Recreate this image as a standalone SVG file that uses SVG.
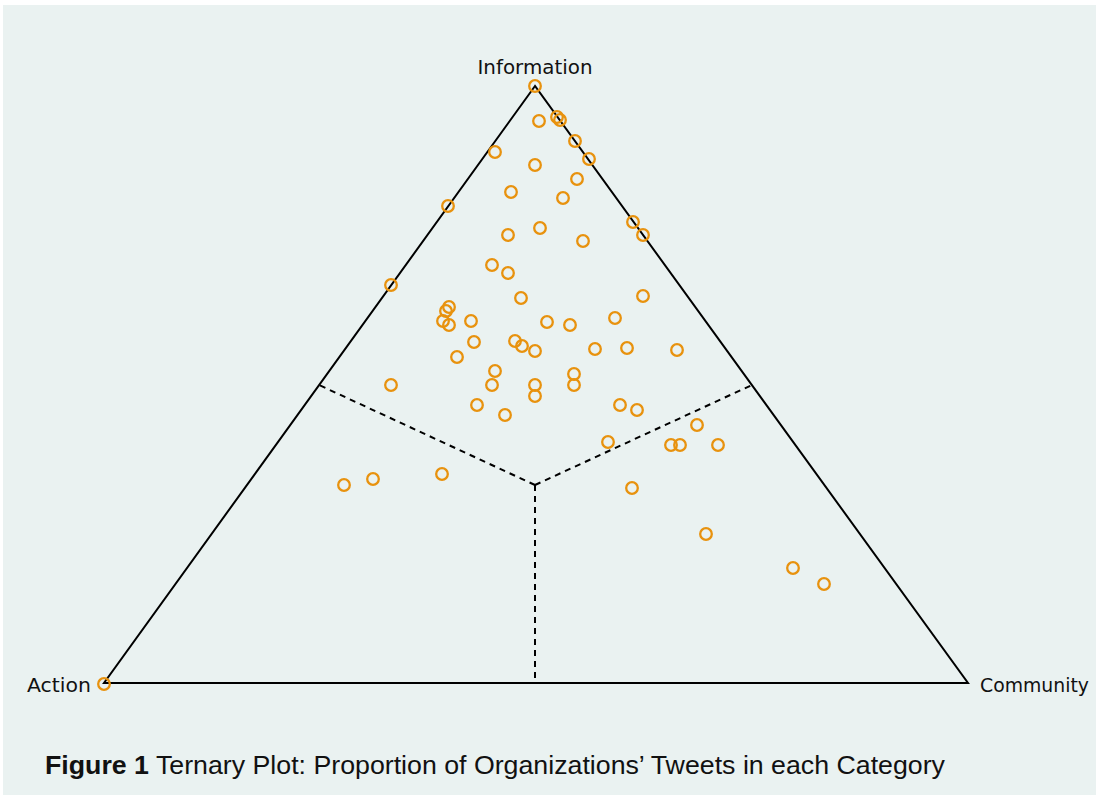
<svg xmlns="http://www.w3.org/2000/svg" width="1096" height="795" viewBox="0 0 1096 795">
<style>
.axis{fill:none;stroke:#000;stroke-width:2;stroke-linejoin:miter}
.div{fill:none;stroke:#000;stroke-width:2;stroke-dasharray:6 5}
.pt{fill:none;stroke:#e8920e;stroke-width:2.3}
.lbl{font-family:"DejaVu Sans",sans-serif;font-size:20px;fill:#111}
.cap{font-family:"Liberation Sans",Arial,sans-serif;font-size:25px;fill:#111}
</style>
<rect x="0" y="0" width="1096" height="795" fill="#ffffff"/>
<rect x="3" y="5" width="1093" height="790" fill="#eaf2f1"/>
<g id="triangle">
<polygon class="axis" points="535,86 104,683 968,683"/>
</g>
<g id="connectors">
<line class="div" x1="535" y1="485" x2="319" y2="385"/>
<line class="div" x1="535" y1="485" x2="752" y2="385"/>
<line class="div" x1="535" y1="485" x2="535" y2="683"/>
</g>
<g id="labels">
<text id="label-information" class="lbl" x="535" y="74" text-anchor="middle" textLength="115" lengthAdjust="spacingAndGlyphs">Information</text>
<text id="label-action" class="lbl" x="27" y="692" textLength="64" lengthAdjust="spacingAndGlyphs">Action</text>
<text id="label-community" class="lbl" x="980" y="692" style="font-size:19px" textLength="109" lengthAdjust="spacingAndGlyphs">Community</text>
</g>
<g id="points">
<circle class="pt" cx="535" cy="86" r="5.8"/>
<circle class="pt" cx="104" cy="684" r="5.8"/>
<circle class="pt" cx="539" cy="121" r="5.8"/>
<circle class="pt" cx="557" cy="117" r="5.8"/>
<circle class="pt" cx="560" cy="120" r="5.8"/>
<circle class="pt" cx="575" cy="141" r="5.8"/>
<circle class="pt" cx="589" cy="159" r="5.8"/>
<circle class="pt" cx="495" cy="152" r="5.8"/>
<circle class="pt" cx="535" cy="165" r="5.8"/>
<circle class="pt" cx="577" cy="179" r="5.8"/>
<circle class="pt" cx="511" cy="192" r="5.8"/>
<circle class="pt" cx="563" cy="198" r="5.8"/>
<circle class="pt" cx="448" cy="206" r="5.8"/>
<circle class="pt" cx="633" cy="222" r="5.8"/>
<circle class="pt" cx="643" cy="235" r="5.8"/>
<circle class="pt" cx="508" cy="235" r="5.8"/>
<circle class="pt" cx="540" cy="228" r="5.8"/>
<circle class="pt" cx="583" cy="241" r="5.8"/>
<circle class="pt" cx="492" cy="265" r="5.8"/>
<circle class="pt" cx="508" cy="273" r="5.8"/>
<circle class="pt" cx="391" cy="285" r="5.8"/>
<circle class="pt" cx="521" cy="298" r="5.8"/>
<circle class="pt" cx="643" cy="296" r="5.8"/>
<circle class="pt" cx="449" cy="307" r="5.8"/>
<circle class="pt" cx="446" cy="311" r="5.8"/>
<circle class="pt" cx="443" cy="321" r="5.8"/>
<circle class="pt" cx="449" cy="325" r="5.8"/>
<circle class="pt" cx="471" cy="321" r="5.8"/>
<circle class="pt" cx="547" cy="322" r="5.8"/>
<circle class="pt" cx="570" cy="325" r="5.8"/>
<circle class="pt" cx="615" cy="318" r="5.8"/>
<circle class="pt" cx="474" cy="342" r="5.8"/>
<circle class="pt" cx="515" cy="341" r="5.8"/>
<circle class="pt" cx="522" cy="346" r="5.8"/>
<circle class="pt" cx="535" cy="351" r="5.8"/>
<circle class="pt" cx="595" cy="349" r="5.8"/>
<circle class="pt" cx="627" cy="348" r="5.8"/>
<circle class="pt" cx="677" cy="350" r="5.8"/>
<circle class="pt" cx="457" cy="357" r="5.8"/>
<circle class="pt" cx="495" cy="371" r="5.8"/>
<circle class="pt" cx="574" cy="374" r="5.8"/>
<circle class="pt" cx="391" cy="385" r="5.8"/>
<circle class="pt" cx="492" cy="385" r="5.8"/>
<circle class="pt" cx="535" cy="385" r="5.8"/>
<circle class="pt" cx="574" cy="385" r="5.8"/>
<circle class="pt" cx="535" cy="396" r="5.8"/>
<circle class="pt" cx="477" cy="405" r="5.8"/>
<circle class="pt" cx="620" cy="405" r="5.8"/>
<circle class="pt" cx="637" cy="410" r="5.8"/>
<circle class="pt" cx="505" cy="415" r="5.8"/>
<circle class="pt" cx="697" cy="425" r="5.8"/>
<circle class="pt" cx="608" cy="442" r="5.8"/>
<circle class="pt" cx="671" cy="445" r="5.8"/>
<circle class="pt" cx="680" cy="445" r="5.8"/>
<circle class="pt" cx="718" cy="445" r="5.8"/>
<circle class="pt" cx="344" cy="485" r="5.8"/>
<circle class="pt" cx="373" cy="479" r="5.8"/>
<circle class="pt" cx="442" cy="474" r="5.8"/>
<circle class="pt" cx="632" cy="488" r="5.8"/>
<circle class="pt" cx="706" cy="534" r="5.8"/>
<circle class="pt" cx="793" cy="568" r="5.8"/>
<circle class="pt" cx="824" cy="584" r="5.8"/>
</g>
<g id="caption">
<text class="cap" x="45" y="774" textLength="900" lengthAdjust="spacingAndGlyphs"><tspan font-weight="bold">Figure 1</tspan> Ternary Plot: Proportion of Organizations’ Tweets in each Category</text>
</g>
</svg>
